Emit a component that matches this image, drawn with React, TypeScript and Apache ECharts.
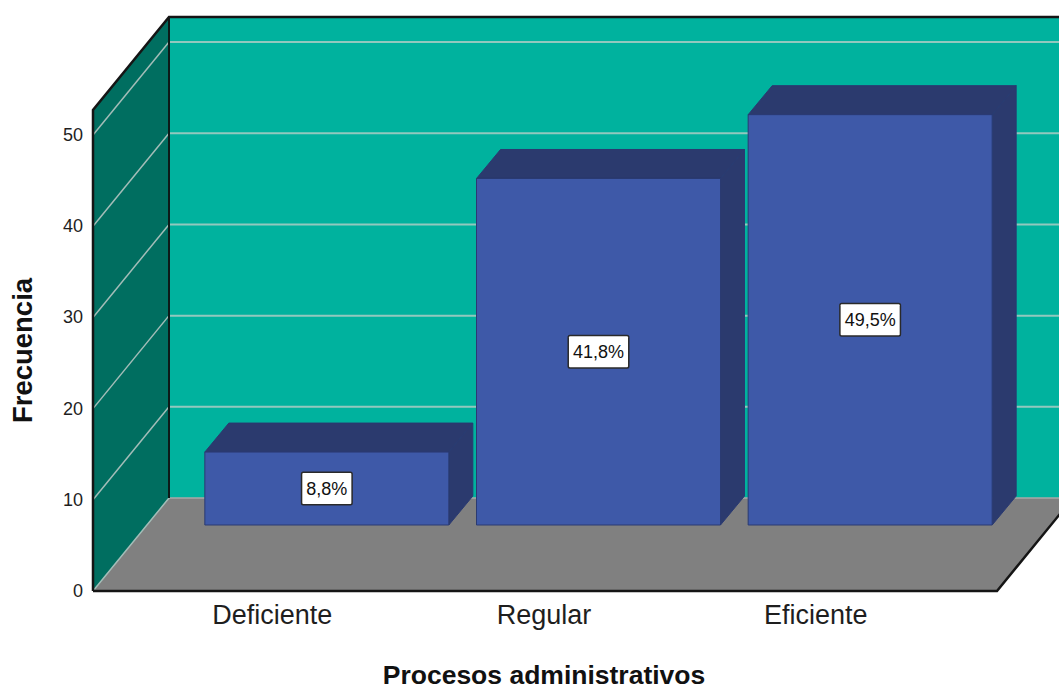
import React, { useEffect, useRef } from "react";
import * as echarts from "echarts";

const categories = ["Deficiente", "Regular", "Eficiente"];
const frequencies = [8, 38, 45];
const percentLabels = ["8,8%", "41,8%", "49,5%"];
const gridValues = [0, 10, 20, 30, 40, 50];
const xAxisTitle = "Procesos administrativos";
const yAxisTitle = "Frecuencia";

const Y_MAX = 52.75;
const DEPTH_X = 76;
const DEPTH_Y = 93;
const AXIS_OFFSET = 43.5;
const FLOOR_EXTRA = 45.5;
const BAR_OFF_X = 54.5;
const BAR_OFF_Y = 66;
const BAR_DEPTH_X = 24;
const BAR_DEPTH_Y = 29;
const BAR_W = 244;
const FONT = "'Liberation Sans', Arial, sans-serif";

export default function App() {
  const ref = useRef<HTMLDivElement>(null);
  useEffect(() => {
    if (!ref.current) return;
    const chart = echarts.init(ref.current, undefined, { renderer: "svg" });
    const option: any = {
      animation: false,
      backgroundColor: "#ffffff",
      grid: { left: 135.5, width: 816, top: 110, height: 487 },
      xAxis: {
        type: "category",
        data: categories,
        axisLine: { show: false },
        axisTick: { show: false },
        splitLine: { show: false },
        axisLabel: { fontSize: 27, color: "#1e1e1e", margin: 10, fontFamily: FONT },
        name: xAxisTitle,
        nameLocation: "middle",
        nameGap: 70,
        nameTextStyle: { fontSize: 26.5, fontWeight: "bold", color: "#111", fontFamily: FONT },
      },
      yAxis: {
        type: "value",
        min: 0,
        max: Y_MAX,
        interval: 10,
        offset: AXIS_OFFSET,
        axisLine: { show: false },
        axisTick: { show: false },
        splitLine: { show: false },
        axisLabel: { fontSize: 18, color: "#1e1e1e", margin: 10, showMaxLabel: false, fontFamily: FONT },
        name: yAxisTitle,
        nameLocation: "middle",
        nameGap: 57,
        nameTextStyle: { fontSize: 27.5, fontWeight: "bold", color: "#111", fontFamily: FONT },
      },
      series: [
        {
          type: "custom",
          name: "scene",
          clip: false,
          z: 1,
          silent: true,
          data: [[0, 0]],
          renderItem: (params: any, api: any) => {
            const cs = params.coordSys;
            const left = cs.x - AXIS_OFFSET;
            const y0 = api.coord([0, 0])[1];
            const yTop = api.coord([0, Y_MAX])[1];
            const floorRight = cs.x + cs.width + FLOOR_EXTRA;
            const backLeft = left + DEPTH_X;
            const farRight = floorRight + DEPTH_X + 30;
            const children: any[] = [];
            children.push({
              type: "rect",
              shape: { x: backLeft, y: yTop - DEPTH_Y, width: farRight - backLeft, height: y0 - yTop },
              style: { fill: "#00b29e" },
            });
            children.push({
              type: "polygon",
              shape: { points: [[left, yTop], [backLeft, yTop - DEPTH_Y], [backLeft, y0 - DEPTH_Y], [left, y0]] },
              style: { fill: "#006e60" },
            });
            children.push({
              type: "polygon",
              shape: { points: [[left, y0], [backLeft, y0 - DEPTH_Y], [floorRight + DEPTH_X, y0 - DEPTH_Y], [floorRight, y0]] },
              style: { fill: "#808080" },
            });
            gridValues.forEach((v) => {
              const y = api.coord([0, v])[1];
              children.push({
                type: "line",
                shape: { x1: backLeft, y1: y - DEPTH_Y, x2: farRight, y2: y - DEPTH_Y },
                style: v > 0 ? { stroke: "#92c8be", lineWidth: 2 } : { stroke: "#a9a9a9", lineWidth: 1.5 },
              });
              children.push({
                type: "line",
                shape: { x1: left, y1: y, x2: backLeft, y2: y - DEPTH_Y },
                style: { stroke: "#a3bdb8", lineWidth: 1.5 },
              });
            });
            children.push({
              type: "line",
              shape: { x1: backLeft, y1: yTop - DEPTH_Y, x2: backLeft, y2: y0 - DEPTH_Y },
              style: { stroke: "#0d1a18", lineWidth: 2 },
            });
            children.push({
              type: "polyline",
              shape: { points: [[left, y0], [left, yTop], [backLeft, yTop - DEPTH_Y], [farRight, yTop - DEPTH_Y]] },
              style: { stroke: "#151515", lineWidth: 2.5, fill: "none" },
            });
            children.push({
              type: "polyline",
              shape: { points: [[left, y0], [floorRight, y0], [floorRight + DEPTH_X, y0 - DEPTH_Y]] },
              style: { stroke: "#151515", lineWidth: 2.5, fill: "none" },
            });
            return { type: "group", children };
          },
        },
        {
          type: "custom",
          name: "Frecuencia",
          clip: false,
          z: 2,
          data: frequencies.map((v, i) => [i, v]),
          renderItem: (params: any, api: any) => {
            const top = api.coord([api.value(0), api.value(1)]);
            const base = api.coord([api.value(0), 0]);
            const fx0 = top[0] + BAR_OFF_X - BAR_W / 2;
            const fx1 = fx0 + BAR_W;
            const fyTop = top[1] - BAR_OFF_Y;
            const fyBot = base[1] - BAR_OFF_Y;
            const edge = { stroke: "#2a3a72", lineWidth: 1 };
            return {
              type: "group",
              children: [
                {
                  type: "polygon",
                  shape: {
                    points: [
                      [fx0, fyTop],
                      [fx0 + BAR_DEPTH_X, fyTop - BAR_DEPTH_Y],
                      [fx1 + BAR_DEPTH_X, fyTop - BAR_DEPTH_Y],
                      [fx1, fyTop],
                    ],
                  },
                  style: { fill: "#2b3a6e", ...edge },
                },
                {
                  type: "polygon",
                  shape: {
                    points: [
                      [fx1, fyTop],
                      [fx1 + BAR_DEPTH_X, fyTop - BAR_DEPTH_Y],
                      [fx1 + BAR_DEPTH_X, fyBot - BAR_DEPTH_Y],
                      [fx1, fyBot],
                    ],
                  },
                  style: { fill: "#2b3a6e", ...edge },
                },
                {
                  type: "rect",
                  shape: { x: fx0, y: fyTop, width: BAR_W, height: fyBot - fyTop },
                  style: { fill: "#3e59a8", ...edge },
                },
                {
                  type: "text",
                  style: {
                    text: percentLabels[params.dataIndex],
                    x: fx0 + BAR_W / 2,
                    y: (fyTop + fyBot) / 2,
                    align: "center",
                    verticalAlign: "middle",
                    font: `18px ${FONT}`,
                    fill: "#111",
                    backgroundColor: "#ffffff",
                    borderColor: "#2a2a2a",
                    borderWidth: 1.5,
                    borderRadius: 1,
                    padding: [7, 4, 6, 4],
                  },
                },
              ],
            };
          },
        },
      ],
    };
    chart.setOption(option);
    return () => chart.dispose();
  }, []);
  return (
    <div
      ref={ref}
      style={{ position: "fixed", left: 0, top: 0, width: 1059, height: 693 }}
    />
  );
}
